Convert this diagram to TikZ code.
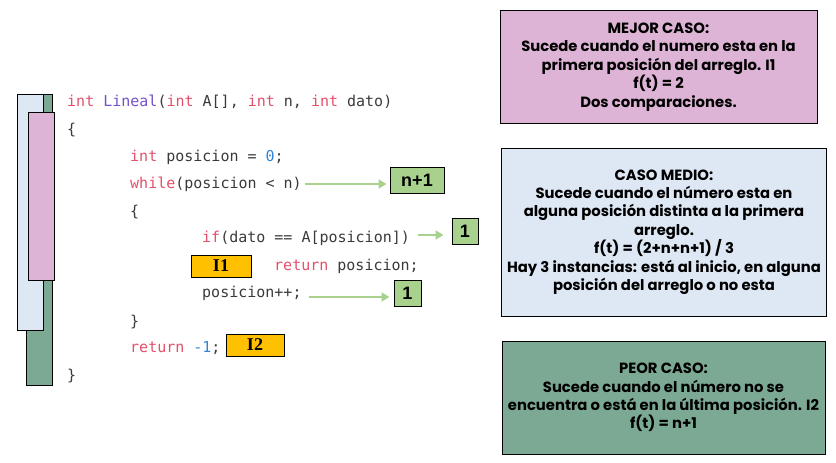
\documentclass[tikz,border=0pt]{standalone}
\usepackage{fontspec}
\usepackage{tikz}
\usetikzlibrary{positioning, calc}
\usetikzlibrary{arrows.meta}

\newfontfamily\codefont{DejaVu Sans Mono}
\newfontfamily\casefont{Poppins}
\newfontfamily\tagfont{Liberation Serif}
\newfontfamily\costfont{Liberation Sans}

\definecolor{kwred}{HTML}{E3506A}
\definecolor{fnpurple}{HTML}{7452C8}
\definecolor{numblue}{HTML}{2F86D6}
\definecolor{codegray}{HTML}{3A3A3A}
\definecolor{mejorfill}{HTML}{DDB4D6}
\definecolor{mediofill}{HTML}{DEE7F4}
\definecolor{peorfill}{HTML}{7BA994}
\definecolor{tagyellow}{HTML}{FFC000}
\definecolor{costgreen}{HTML}{A9D18E}

\newcommand{\kw}[1]{\textcolor{kwred}{#1}}

\tikzset{
  codeline/.style={anchor=west, inner sep=0pt, text=codegray,
    font=\codefont\fontsize{15}{15}\selectfont},
  casebox/.style={draw=black, line width=0.9pt, align=center, inner sep=0pt,
    font=\casefont\bfseries\fontsize{14.8}{18.4}\selectfont},
  tagbox/.style={draw=black, line width=1pt, fill=tagyellow, inner sep=0pt,
    minimum height=22pt, font=\tagfont\bfseries\fontsize{18}{18}\selectfont},
  costbox/.style={draw=black, line width=1pt, fill=costgreen, inner sep=0pt,
    minimum height=26pt, font=\costfont\bfseries\fontsize{18}{18}\selectfont},
  costarrow/.style={draw=costgreen, line width=2.6pt,
    -{Triangle[length=8pt,width=9pt]}},
  bar/.style={draw=black, line width=0.9pt}
}

\begin{document}
\begin{tikzpicture}[x=1pt, y=-1pt]

% Manually size the picture
\useasboundingbox (0, 0) rectangle (836, 463);

% Bars on the left
\draw[bar, fill=peorfill] (26, 94) rectangle (52, 385);
\draw[bar, fill=mediofill] (17, 94) rectangle (43, 330);
\draw[bar, fill=mejorfill] (28, 112) rectangle (54, 280);

% Code
\node[codeline] (lhead) at (67, 102) {\kw{int} \textcolor{fnpurple}{Lineal}(\kw{int} A[], \kw{int} n, \kw{int} dato)};
\node[codeline] (lopen) at (67, 130) {\{};
\node[codeline] (linit) at (130, 157) {\kw{int} posicion = \textcolor{numblue}{0};};
\node[codeline] (lwhile) at (130, 184) {\kw{while}(posicion < n)};
\node[codeline] (lwopen) at (130, 212) {\{};
\node[codeline] (lif) at (202, 238) {\kw{if}(dato == A[posicion])};
\node[codeline] (lret) at (274, 266) {\kw{return} posicion;};
\node[codeline] (linc) at (202, 293) {posicion++;};
\node[codeline] (lwclose) at (130, 322) {\}};
\node[codeline] (lretneg) at (130, 348) {\kw{return} \textcolor{numblue}{-1};};
\node[codeline] (lclose) at (67, 376) {\}};

% Instance tags
\node[tagbox, minimum width=60pt] (tagone) at (221, 266) {I1};
\node[tagbox, minimum width=58pt] (tagtwo) at (255, 345) {I2};

% Costs
\node[costbox, minimum width=54pt] (cwhile) at (417, 180) {n+1};
\node[costbox, minimum width=26pt] (cif) at (465, 231) {1};
\node[costbox, minimum width=27pt] (cinc) at (407.5, 293.5) {1};

\draw[costarrow, shorten <=3pt, shorten >=3pt] (lwhile.east) -- (lwhile.east -| cwhile.west);
\draw[costarrow, shorten <=8pt, shorten >=8pt] ($(lif.east)+(0,-3)$) -- ($(lif.east -| cif.west)+(0,-3)$);
\draw[costarrow, shorten <=7pt, shorten >=4pt] ($(linc.east)+(0,4)$) -- ($(linc.east -| cinc.west)+(0,4)$);

% Cases
\node[casebox, fill=mejorfill, minimum width=317pt, minimum height=113pt] (mejor) at (658.5, 67)
  {MEJOR CASO:\\Sucede cuando el numero esta en la\\primera posición del arreglo. I1\\f(t) = 2\\Dos comparaciones.};
\node[casebox, fill=mediofill, minimum width=325pt, minimum height=168pt] (medio) at (664, 232)
  {CASO MEDIO:\\Sucede cuando el número esta en\\alguna posición distinta a la primera\\arreglo.\\f(t) = (2+n+n+1) / 3\\Hay 3 instancias: está al inicio, en alguna\\posición del arreglo o no esta};
\node[casebox, fill=peorfill, minimum width=323pt, minimum height=113pt] (peor) at (663.5, 397.5)
  {PEOR CASO:\\Sucede cuando el número no se\\encuentra o está en la última posición. I2\\f(t) = n+1};

\end{tikzpicture}
\end{document}
